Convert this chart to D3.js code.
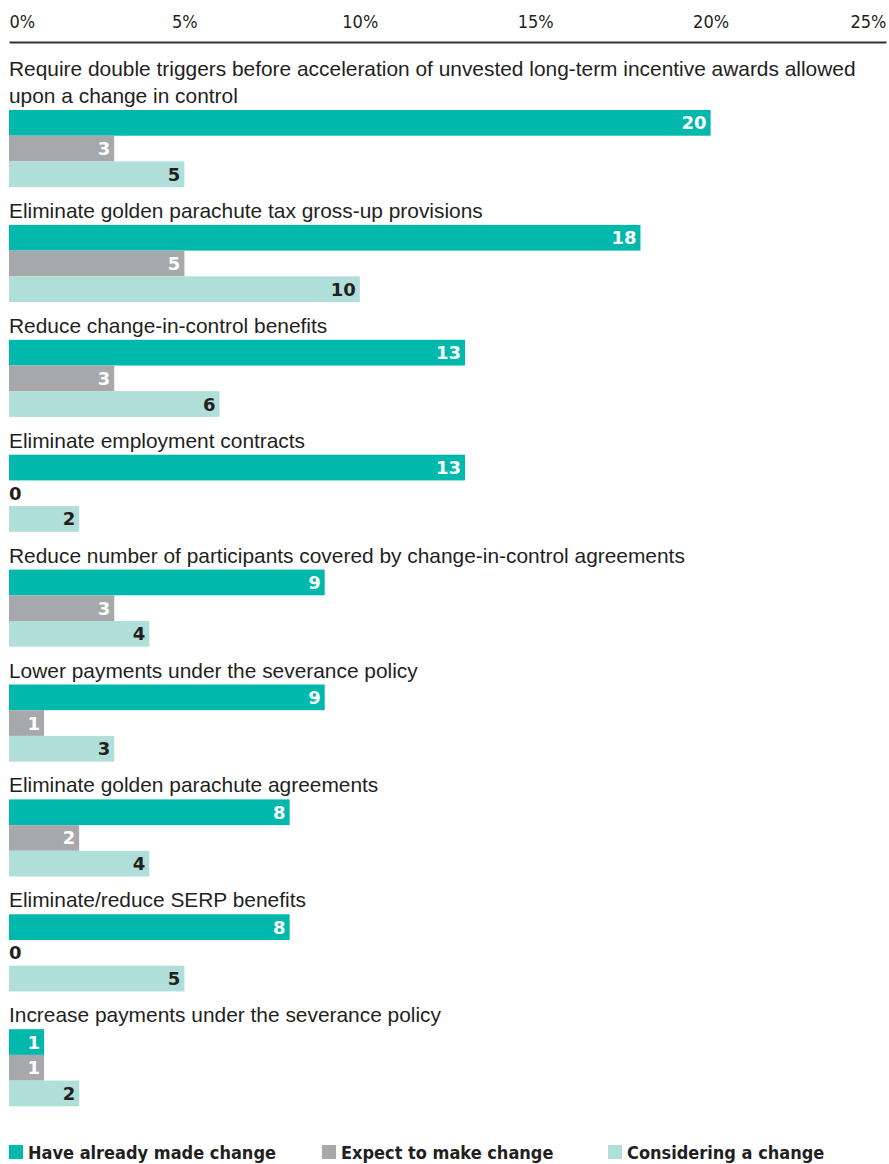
<!DOCTYPE html>
<head>
  <meta charset="utf-8">
  <title>change in control practices</title>
  <script src="https://cdn.jsdelivr.net/npm/d3@7"></script>
  <style>
    body { margin: 0; background: #fff; }
    text { font-family: "Liberation Sans", Arial, sans-serif; fill: #231f20; }
    .tick text { font-family: "DejaVu Sans Condensed", sans-serif; }
    .val { font-family: "DejaVu Sans", sans-serif; font-weight: bold; font-size: 18px; }
    .leg { font-family: "DejaVu Sans Condensed", sans-serif; font-weight: bold; font-size: 18px; }
  </style>
</head>
<body>
<script>
var categories = [
  "Require double triggers before acceleration of unvested long-term incentive awards allowed upon a change in control",
  "Eliminate golden parachute tax gross-up provisions",
  "Reduce change-in-control benefits",
  "Eliminate employment contracts",
  "Reduce number of participants covered by change-in-control agreements",
  "Lower payments under the severance policy",
  "Eliminate golden parachute agreements",
  "Eliminate/reduce SERP benefits",
  "Increase payments under the severance policy"
];
var seriesNames = ["Have already made change", "Expect to make change", "Considering a change"];
var alreadyMade = [20, 18, 13, 13, 9, 9, 8, 8, 1];
var expectTo    = [3, 5, 3, 0, 3, 1, 2, 0, 1];
var considering = [5, 10, 6, 2, 4, 3, 4, 5, 2];
var tickValues = [0, 5, 10, 15, 20, 25];

var colors = ["#00b8ac", "#a7a8ac", "#b0ded8"];
var labelColors = ["#ffffff", "#ffffff", "#231f20"];
var series = [alreadyMade, expectTo, considering];

var W = 889, H = 1164;
var svg = d3.select("body").append("svg").attr("width", W).attr("height", H);

var x = d3.scaleLinear().domain([0, 25]).range([9, 886]);

// axis on top
var axisG = svg.append("g").attr("transform", "translate(0,42)");
axisG.call(d3.axisTop(x).tickValues(tickValues).tickSize(0).tickPadding(14)
  .tickFormat(function(d) { return d + "%"; }));
axisG.select(".domain").attr("stroke", "#333").attr("stroke-width", 2);
axisG.selectAll(".tick text").attr("font-size", 18).attr("fill", "#231f20")
  .attr("text-anchor", function(d) { return d === 0 ? "start" : (d === 25 ? "end" : "middle"); });

var y = d3.scaleBand().domain(d3.range(categories.length)).range([110, 110 + 114.9 * 9]).paddingInner(0).paddingOuter(0);
var barH = 25.7;

function wrap(textSel, width) {
  textSel.each(function() {
    var t = d3.select(this);
    var words = t.text().split(" ");
    t.text(null);
    var line = [], lines = [];
    var tsp = t.append("tspan");
    words.forEach(function(w) {
      line.push(w);
      tsp.text(line.join(" "));
      if (tsp.node().getComputedTextLength() > width && line.length > 1) {
        line.pop();
        lines.push(line.join(" "));
        line = [w];
        tsp.text(w);
      }
    });
    lines.push(line.join(" "));
    tsp.remove();
    var n = lines.length;
    lines.forEach(function(l, i) {
      t.append("tspan").attr("x", 9).attr("dy", i === 0 ? -(n - 1) * 27 : 27).text(l);
    });
  });
}

var groups = svg.selectAll("g.grp").data(categories).enter().append("g")
  .attr("class", "grp")
  .attr("transform", function(d, i) { return "translate(0," + y(i) + ")"; });

groups.append("text")
  .attr("x", 9).attr("y", -7)
  .attr("font-size", 20.9)
  .text(function(d) { return d; })
  .call(wrap, 870);

series.forEach(function(vals, s) {
  groups.append("rect")
    .attr("x", x(0))
    .attr("y", s * barH)
    .attr("height", barH)
    .attr("width", function(d, i) { return x(vals[i]) - x(0); })
    .attr("fill", colors[s]);
  groups.append("text")
    .attr("class", "val")
    .attr("y", s * barH + barH / 2 + 6.5)
    .attr("x", function(d, i) { return vals[i] === 0 ? x(0) : x(vals[i]) - 4; })
    .attr("text-anchor", function(d, i) { return vals[i] === 0 ? "start" : "end"; })
    .style("fill", function(d, i) { return vals[i] === 0 ? "#231f20" : labelColors[s]; })
    .text(function(d, i) { return vals[i]; });
});

// legend
var legX = [9, 322, 608];
var leg = svg.selectAll("g.leg").data(seriesNames).enter().append("g")
  .attr("transform", function(d, i) { return "translate(" + legX[i] + ",1145)"; });
leg.append("rect").attr("width", 14).attr("height", 14).attr("fill", function(d, i) { return colors[i]; });
leg.append("text").attr("class", "leg").attr("x", 19).attr("y", 14).text(function(d) { return d; });
</script>
</body>
